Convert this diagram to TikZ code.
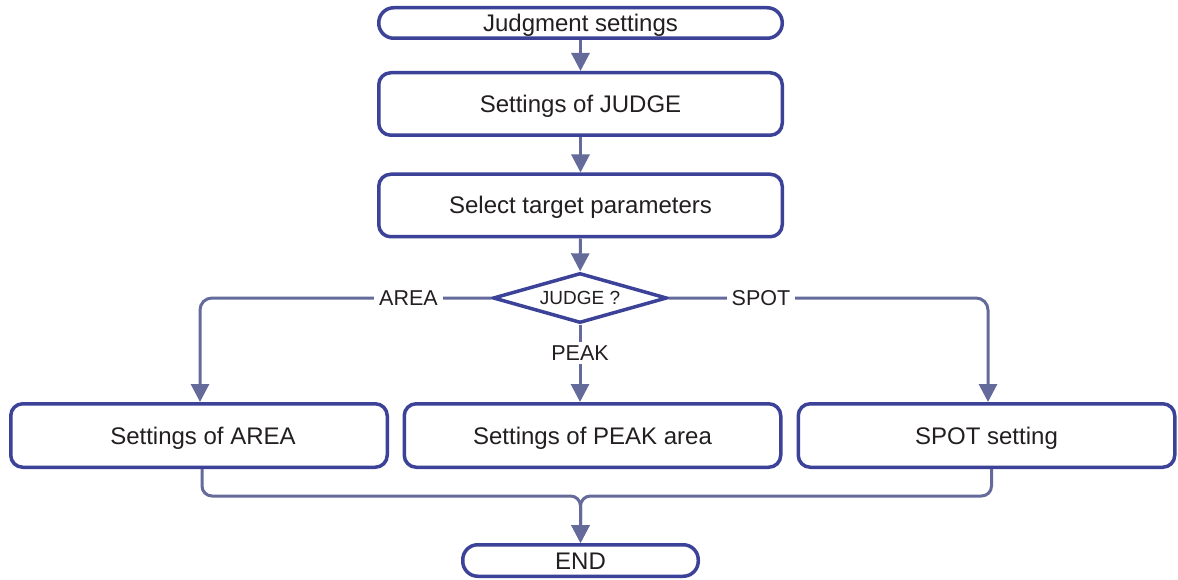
\documentclass[tikz,border=0pt]{standalone}
\usepackage{fontspec}
\setmainfont{Liberation Sans}
\usetikzlibrary{arrows.meta,shapes.geometric}
\definecolor{boxc}{RGB}{59,66,152}
\definecolor{linec}{RGB}{100,106,154}
\definecolor{txt}{RGB}{35,31,32}
\begin{document}
\begin{tikzpicture}[x=1pt,y=-1pt,
  box/.style={draw=boxc, line width=3.5pt, rounded corners=12pt, minimum width=403.5pt,
    minimum height=62.5pt, text=txt, font=\fontsize{24}{28}\selectfont, inner sep=0pt, fill=white,
    text height=17pt, text depth=0pt},
  term/.style={box, rounded corners=15pt, minimum height=30.5pt},
  dia/.style={draw=boxc, line width=3.5pt, shape=diamond, aspect=3.3, minimum width=174pt,
    minimum height=50pt, inner sep=0pt, fill=white, text=txt, font=\fontsize{19}{22}\selectfont,
    text height=13.6pt, text depth=0pt},
  conn/.style={draw=linec, line width=3pt, -{Triangle[width=18pt,length=18pt]}},
  lab/.style={fill=white, text=txt, font=\fontsize{21.5}{24}\selectfont, inner sep=5pt,
    text height=15.4pt, text depth=0pt}]
\useasboundingbox (0,0) rectangle (1178,580);

\node[term] (start) at (580.5,23) {Judgment settings};
\node[box] (judge) at (580.5,104) {Settings of JUDGE};
\node[box] (select) at (580.5,205.5) {Select target parameters};
\node[dia] (q) at (580,298) {JUDGE ?};
\node[box, minimum width=376.5pt, minimum height=63.5pt] (area) at (199,435.5) {\hspace*{8pt}Settings of AREA};
\node[box, minimum width=376.5pt, minimum height=63.5pt] (peak) at (592.5,435.5) {Settings of PEAK area};
\node[box, minimum width=376.5pt, minimum height=63.5pt] (spot) at (986.5,435.5) {SPOT setting};
\node[term, minimum width=235.5pt, minimum height=31.5pt] (end) at (580.5,560.5) {END};

\draw[conn] (start) -- (judge);
\draw[conn] (judge) -- (select);
\draw[conn] (select) -- (q);
\draw[conn, rounded corners=12pt] (q.west) -| ([xshift=1pt]area.north);
\draw[conn, rounded corners=12pt] (q.east) -| ([xshift=1.5pt]spot.north);
\draw[conn] (q.south) -- (q.south |- peak.north);
\draw[conn, rounded corners=10pt] ([xshift=3pt]area.south) -- ++(0,27) -| (end.north);
\draw[conn, rounded corners=10pt] ([xshift=5pt]spot.south) -- ++(0,27) -| (end.north);

\node[lab] (lArea) at (408.5,298) {AREA};
\node[lab] (lSpot) at (761,298) {SPOT};
\node[lab, inner sep=3pt] (lPeak) at (580,353) {PEAK};
\end{tikzpicture}
\end{document}
